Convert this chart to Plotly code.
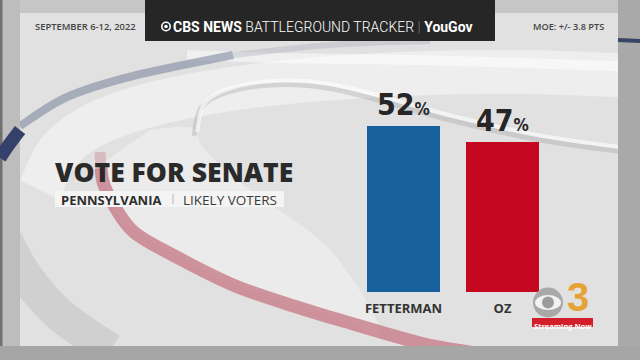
import numpy as np
import plotly.graph_objects as go

W, H = 640, 360

# ---- data ----
candidates = ["FETTERMAN", "OZ"]
shares = [52, 47]
bar_colors = ["#17609d", "#c5081f"]
title_text = "VOTE FOR SENATE"
state = "PENNSYLVANIA"
population = "LIKELY VOTERS"
dates = "SEPTEMBER 6-12, 2022"
moe = "MOE: +/- 3.8 PTS"


def px(x):
    return x / W


def py(y):
    return 1 - y / H


def rect(x0, y0, x1, y1, color, layer="below"):
    return dict(type="rect", xref="paper", yref="paper", x0=px(x0), x1=px(x1),
                y0=py(y1), y1=py(y0), fillcolor=color, line=dict(width=0), layer=layer)


def ellipse(cx, cy, rx, ry, color, line=None, layer="below"):
    return dict(type="circle", xref="paper", yref="paper", x0=px(cx - rx), x1=px(cx + rx),
                y0=py(cy + ry), y1=py(cy - ry), fillcolor=color,
                line=line or dict(width=0), layer=layer)


def smooth(points, color, width, fill=None):
    """Decorative swoosh: Catmull-Rom spline through the given pixel points."""
    p = [(px(a), py(b)) for a, b in points]
    d = f"M {p[0][0]:.5f},{p[0][1]:.5f}"
    for i in range(len(p) - 1):
        p0 = p[i - 1] if i > 0 else p[i]
        p1, p2 = p[i], p[i + 1]
        p3 = p[i + 2] if i + 2 < len(p) else p2
        c1 = (p1[0] + (p2[0] - p0[0]) / 6, p1[1] + (p2[1] - p0[1]) / 6)
        c2 = (p2[0] - (p3[0] - p1[0]) / 6, p2[1] - (p3[1] - p1[1]) / 6)
        d += f" C {c1[0]:.5f},{c1[1]:.5f} {c2[0]:.5f},{c2[1]:.5f} {p2[0]:.5f},{p2[1]:.5f}"
    if fill:
        d += " Z"
    return dict(type="path", xref="paper", yref="paper", path=d,
                fillcolor=fill or "rgba(0,0,0,0)",
                line=dict(color=color, width=width), layer="below")


shapes = []
# panel
shapes.append(rect(20, 13, 618, 346, "#e1e1e1"))
# lower-left shadow crescent
shapes.append(smooth([(0, 230), (25, 275), (60, 315), (110, 350)], "rgba(140,140,140,0.2)", 34))
# bright white ring between the navy and red swooshes
shapes.append(smooth([(40, 190), (60, 150), (100, 122), (170, 100), (270, 84),
                      (400, 74), (520, 72), (640, 76)], "rgba(255,255,255,0.45)", 44))
shapes.append(smooth([(100, 165), (118, 215), (167, 250), (233, 283), (340, 318), (380, 330),
                      (330, 250), (250, 190), (205, 150), (192, 128), (150, 130)],
                     "rgba(0,0,0,0)", 0, fill="rgba(255,255,255,0.35)"))
# inner ring (shadow + highlight)
inner = [(194, 136), (201, 108), (225, 93), (270, 85), (320, 87), (367, 97), (450, 120),
         (540, 140), (640, 154)]
shapes.append(smooth(inner, "rgba(150,150,150,0.3)", 5))
shapes.append(smooth([(a + 3, b - 4) for a, b in inner], "rgba(255,255,255,0.6)", 4))
shapes.append(smooth([(187, 55), (280, 58), (420, 60), (613, 66), (640, 68)],
                     "rgba(255,255,255,0.5)", 10))
# navy / grey outer swoosh
shapes.append(smooth([(20, 126), (67, 97), (133, 76), (233, 55)], "rgba(128,136,162,0.6)", 8))
shapes.append(smooth([(233, 55), (330, 45), (430, 41)], "rgba(165,170,185,0.35)", 6))
# red swoosh
shapes.append(smooth([(100, 152), (101, 170)], "rgba(205,150,160,0.5)", 11))
shapes.append(smooth([(101, 168), (104, 185), (118, 212), (135, 233), (167, 252), (233, 285),
                      (300, 308), (340, 320), (420, 343), (470, 352)],
                     "rgba(200,125,137,0.8)", 13))
# outer frame strips
shapes.append(rect(0, 0, 640, 13, "#c6c6c6"))
shapes.append(rect(0, 0, 20, 360, "#bdbdbd"))
shapes.append(rect(0, 0, 2.5, 360, "#707070"))
shapes.append(rect(618, 0, 640, 360, "#a9a9a9"))
shapes.append(rect(0, 346, 640, 360, "#a6a6a6"))
shapes.append(smooth([(0, 158), (8, 146), (20, 130)], "#34416a", 13))
shapes.append(smooth([(618, 40), (640, 41)], "#3a4466", 4))
# top banner
shapes.append(rect(145, 0, 495, 41, "#262626"))
# subtitle box
shapes.append(rect(55, 191, 284, 207, "#f4f4f4"))
shapes.append(rect(172.5, 194, 173.5, 204, "#b5b5b5"))
# banner eye
shapes.append(ellipse(166, 26.5, 4.2, 4.2, "rgba(0,0,0,0)",
                      line=dict(color="white", width=1.6), layer="above"))
shapes.append(ellipse(166, 26.5, 1.8, 1.8, "white", layer="above"))
# CBS 3 logo
shapes.append(ellipse(548, 302.5, 15, 15, "#a8a8a8", layer="above"))
shapes.append(ellipse(548, 302.5, 13, 7.5, "#f2f2f2", layer="above"))
shapes.append(ellipse(548, 302.5, 6, 6, "#9c9c9c", layer="above"))
shapes.append(rect(532, 318, 593, 327, "#d21f2b", layer="above"))

fig = go.Figure()
fig.add_trace(go.Bar(x=candidates, y=shares, marker=dict(color=bar_colors, line=dict(width=0)),
                     hoverinfo="skip"))

annotations = []
for c, v in zip(candidates, shares):
    annotations.append(dict(
        x=c, y=v, xref="x", yref="y", yanchor="bottom", xanchor="center", showarrow=False,
        yshift=2,
        text=f"{v}<span style='font-size:17px'>%</span>",
        font=dict(family="DejaVu Sans Condensed", size=30, color="#262626", weight="bold")))

dark = "#333333"
annotations += [
    dict(x=px(33), y=py(27), xref="paper", yref="paper", xanchor="left", yanchor="middle",
         showarrow=False, text=dates,
         font=dict(family="Open Sans", size=9.4, color="#444444", weight=600)),
    dict(x=px(606), y=py(27), xref="paper", yref="paper", xanchor="right", yanchor="middle",
         showarrow=False, text=moe,
         font=dict(family="Open Sans", size=9.2, color="#444444", weight=600)),
    dict(x=px(171), y=py(27), xref="paper", yref="paper", xanchor="left", yanchor="middle",
         showarrow=False,
         text="<b>CBS NEWS</b> <span style='font-weight:300'>BATTLEGROUND TRACKER</span> "
              "<span style='color:#777777;font-weight:300'>|</span> <b>YouGov</b>",
         font=dict(family="Roboto", size=14, color="white")),
    dict(x=px(53), y=py(172), xref="paper", yref="paper", xanchor="left", yanchor="middle",
         showarrow=False, text=title_text,
         font=dict(family="Open Sans", size=26.5, color="#2a2a2a", weight=800)),
    dict(x=px(59), y=py(199.5), xref="paper", yref="paper", xanchor="left", yanchor="middle",
         showarrow=False, text=state,
         font=dict(family="Open Sans", size=13, color="#2e2e2e", weight="bold")),
    dict(x=px(181), y=py(199.5), xref="paper", yref="paper", xanchor="left", yanchor="middle",
         showarrow=False, text=population,
         font=dict(family="Open Sans", size=13.5, color="#3a3a3a")),
    dict(x=px(577.5), y=py(320), xref="paper", yref="paper", xanchor="center", yanchor="bottom",
         showarrow=False, text="<b>3</b>", borderpad=0,
         font=dict(family="Liberation Sans", size=40, color="#e6a233")),
    dict(x=px(562.5), y=py(320), xref="paper", yref="paper", xanchor="center",
         yanchor="top", showarrow=False, text="<b>Streaming Now</b>", borderpad=0,
         font=dict(family="Open Sans", size=7.5, color="white")),
]

fig.update_layout(
    width=W, height=H, margin=dict(l=0, r=0, t=0, b=0),
    paper_bgcolor="#bdbdbd", plot_bgcolor="rgba(0,0,0,0)",
    showlegend=False, bargap=1 - 73 / 99,
    shapes=shapes, annotations=annotations,
    xaxis=dict(domain=[px(354), px(552)], range=[-0.5, 1.5], showgrid=False,
               zeroline=False, showline=False, ticks="", ticklabelstandoff=7,
               tickfont=dict(family="Open Sans", size=13, color=dark, weight="bold"),
               fixedrange=True),
    yaxis=dict(domain=[py(292), py(292 - 3.19 * 60)], range=[0, 60], visible=False,
               fixedrange=True),
)

fig.write_html("out.html",
               config={"displayModeBar": False, "staticPlot": True},
               post_script="document.body.style.margin='0';"
                           "document.body.style.overflow='hidden';"
                           "document.body.style.background='#a6a6a6';"
                           "document.documentElement.style.background='#a6a6a6';")
